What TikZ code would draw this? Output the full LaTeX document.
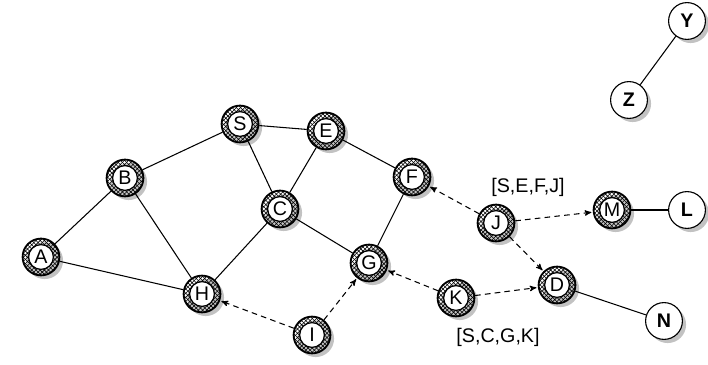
\documentclass[tikz,border=0pt]{standalone}
\usepackage{fontspec}
\setmainfont{Liberation Sans}
\usetikzlibrary{arrows,positioning,shadows,patterns,calc}

\tikzset{
  shade off/.style={drop shadow={shadow xshift=2.6pt, shadow yshift=-2.6pt, fill=black!40, opacity=0.6}},
  hop/.style={circle, draw, line width=1.3pt, minimum size=0.92cm, inner sep=0pt,
    shade off, pattern=crosshatch,
    path picture={\filldraw[fill=white, draw=black, line width=0.9pt]
      (path picture bounding box.center) circle (0.31cm);}},
  endpt/.style={circle, draw, line width=0.8pt, fill=white, minimum size=0.92cm,
    inner sep=0pt, font=\fontsize{14}{16}\selectfont\bfseries, shade off},
  link/.style={-, line width=0.75pt},
  rreq/.style={->, >=stealth', dashed, line width=0.75pt, dash pattern=on 4pt off 3pt, shorten >=1pt},
}

\begin{document}
\begin{tikzpicture}[x=0.025cm, y=-0.025cm, font=\fontsize{14}{16}\selectfont]
    \useasboundingbox (0,0) rectangle (708,365);
    % flooded nodes
    \node[hop] (A) at (41,257) {A};
    \node[hop] (B) at (125,178) {B};
    \node[hop] (S) at (240,124) {S};
    \node[hop] (E) at (326,131) {E};
    \node[hop] (C) at (280,209) {C};
    \node[hop] (F) at (412,177) {F};
    \node[hop] (G) at (369,263) {G};
    \node[hop] (H) at (202,294) {H};
    \node[hop] (I) at (312,335) {I};
    \node[hop] (K) at (456,298) {K};
    \node[hop] (J) at (496,223) {J};
    \node[hop] (D) at (557,285) {D};
    \node[hop] (M) at (612,210) {M};
    % untouched nodes
    \node[endpt] (L) at (687,210) {L};
    \node[endpt] (N) at (664,321) {N};
    \node[endpt] (Y) at (687,21) {Y};
    \node[endpt] (Z) at (629,100) {Z};
    % route records
    \node (recJ) at (528,187) {[S,E,F,J]};
    \node (recK) at (498,337) {[S,C,G,K]};
    \path (A) edge[link] (B);
    \path (A) edge[link] (H);
    \path (B) edge[link] (S);
    \path (B) edge[link] (H);
    \path (S) edge[link] (E);
    \path (S) edge[link] (C);
    \path (E) edge[link] (C);
    \path (E) edge[link] (F);
    \path (C) edge[link] (H);
    \path (C) edge[link] (G);
    \path (G) edge[link] (F);
    \path (M) edge[link] (L);
    \path (D) edge[link] (N);
    \path (Y) edge[link] (Z);
    \path (J) edge[rreq] (F);
    \path (J) edge[rreq] (M);
    \path (J) edge[rreq] (D);
    \path (K) edge[rreq] (G);
    \path (K) edge[rreq] (D);
    \path (I) edge[rreq] (G);
    \path (I) edge[rreq] (H);
\end{tikzpicture}
\end{document}
